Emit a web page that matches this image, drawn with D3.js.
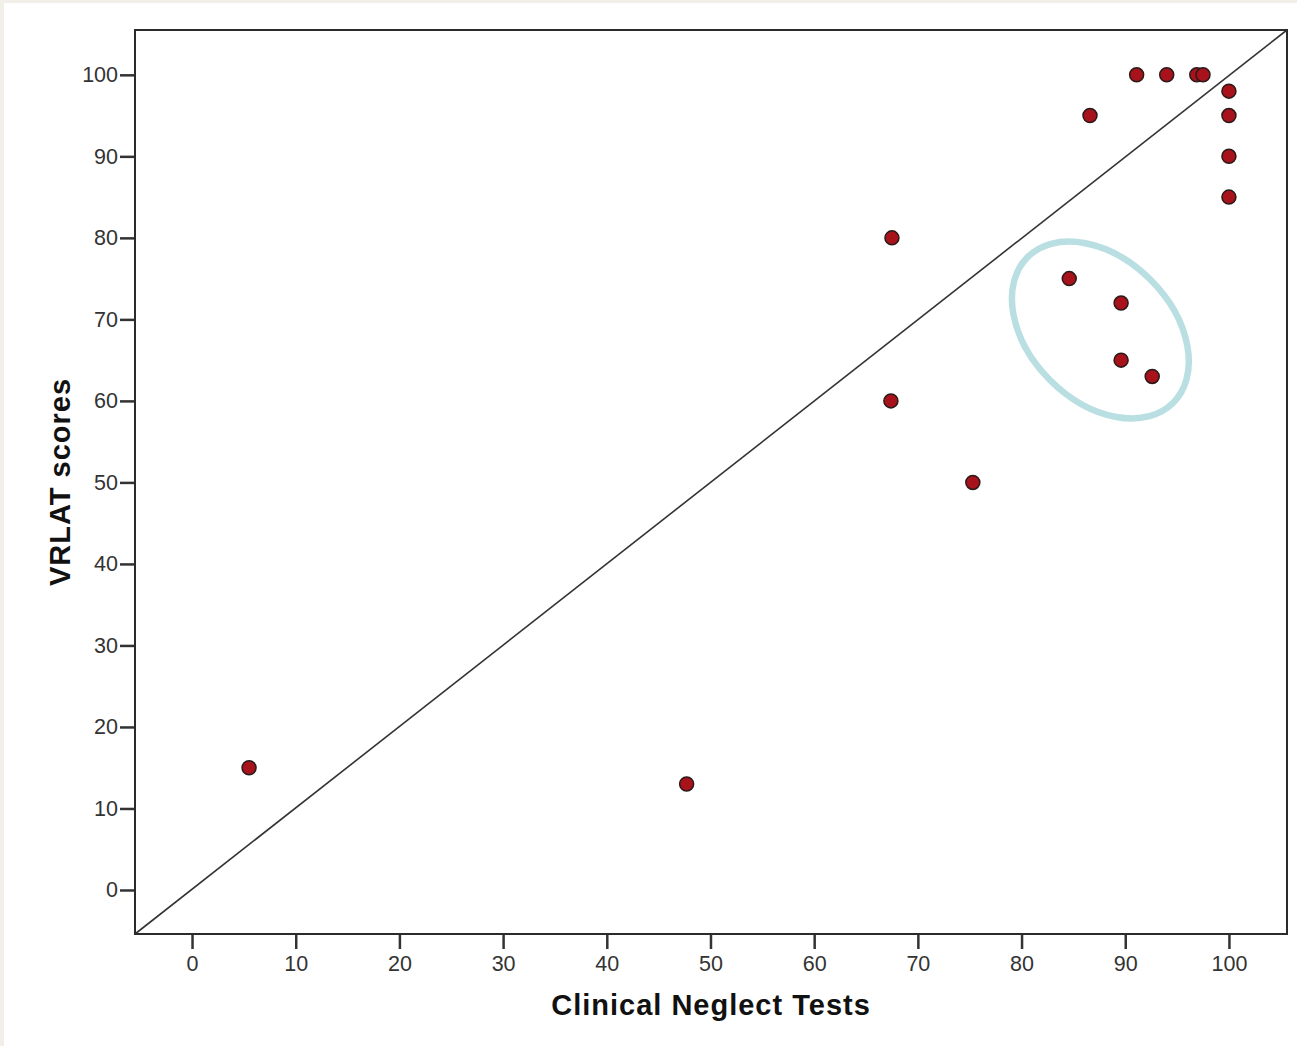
<!DOCTYPE html>
<html>
<head>
<meta charset="utf-8">
<script src="https://cdn.jsdelivr.net/npm/d3@7"></script>
<style>
  body { margin: 0; background: #f2efe8; }
  .tick text { font-family: "Liberation Sans", Arial, sans-serif; }
</style>
</head>
<body>
<div id="scatter"></div>
<script>
// Data
var clinicalScores = [5.5, 47.7, 67.5, 67.4, 75.3, 84.6, 89.6, 89.6, 92.6, 86.6, 91.1, 94.0, 96.9, 97.5, 100, 100, 100, 100];
var vrlatScores = [15, 13, 80, 60, 50, 75, 72, 65, 63, 95, 100, 100, 100, 100, 98, 95, 90, 85];
var tickValues = [0, 10, 20, 30, 40, 50, 60, 70, 80, 90, 100];

// Size of the page and the plot frame
var width = 1297;
var height = 1046;
var frameLeft = 135;
var frameTop = 30;
var frameRight = 1287;
var frameBottom = 934;

var svg = d3
  .select("#scatter")
  .append("svg")
  .attr("width", width)
  .attr("height", height)
  .style("display", "block");

// beige edge round a white panel
svg.append("rect")
  .attr("x", 4)
  .attr("y", 3)
  .attr("width", width - 4)
  .attr("height", height - 3)
  .attr("fill", "#ffffff");

// Scales: both axes run from about -5.5 to 105.5
var xScale = d3.scaleLinear().domain([-5.5, 105.6]).range([frameLeft, frameRight]);
var yScale = d3.scaleLinear().domain([-5.4, 105.5]).range([frameBottom, frameTop]);

var xAxis = d3.axisBottom(xScale).tickValues(tickValues).tickSize(15).tickPadding(7);
var yAxis = d3.axisLeft(yScale).tickValues(tickValues).tickSize(15).tickPadding(2);

var gx = svg.append("g")
  .attr("transform", "translate(0," + frameBottom + ")")
  .call(xAxis);
var gy = svg.append("g")
  .attr("transform", "translate(" + frameLeft + ",0)")
  .call(yAxis);

[gx, gy].forEach(function(g) {
  g.select(".domain").remove();
  g.selectAll(".tick line").attr("stroke", "#333").attr("stroke-width", 2.5);
  g.selectAll(".tick text")
    .attr("fill", "#333")
    .attr("font-size", 21.5);
});

// Diagonal reference line, corner to corner
svg.append("line")
  .attr("x1", xScale(-5.5))
  .attr("y1", yScale(-5.4))
  .attr("x2", xScale(105.6))
  .attr("y2", yScale(105.5))
  .attr("stroke", "#333")
  .attr("stroke-width", 1.6);

// Plot frame
svg.append("rect")
  .attr("x", frameLeft)
  .attr("y", frameTop)
  .attr("width", frameRight - frameLeft)
  .attr("height", frameBottom - frameTop)
  .attr("fill", "none")
  .attr("stroke", "#2b2b2b")
  .attr("stroke-width", 2);

// Highlight ellipse round the four points under the line
var ex = xScale(87.6);
var ey = yScale(68.7);
svg.append("ellipse")
  .attr("cx", 0)
  .attr("cy", 0)
  .attr("rx", 103)
  .attr("ry", 71)
  .attr("transform", "translate(" + ex + "," + ey + ") rotate(45)")
  .attr("fill", "none")
  .attr("stroke", "#b9dfe3")
  .attr("stroke-width", 6.5);

// Points
svg.append("g")
  .selectAll("circle")
  .data(clinicalScores)
  .enter()
  .append("circle")
  .attr("cx", function(d) { return xScale(d); })
  .attr("cy", function(d, i) { return yScale(vrlatScores[i]); })
  .attr("r", 7)
  .attr("fill", "#a8121a")
  .attr("stroke", "#2a1a1a")
  .attr("stroke-width", 1.5);

// Axis titles
svg.append("text")
  .attr("x", (frameLeft + frameRight) / 2)
  .attr("y", 1015)
  .attr("text-anchor", "middle")
  .attr("font-family", "Liberation Sans, Arial, sans-serif")
  .attr("font-weight", "bold")
  .attr("font-size", 29)
  .attr("letter-spacing", 1)
  .attr("fill", "#111")
  .text("Clinical Neglect Tests");

svg.append("text")
  .attr("transform", "translate(70," + (frameTop + frameBottom) / 2 + ") rotate(-90)")
  .attr("text-anchor", "middle")
  .attr("font-family", "Liberation Sans, Arial, sans-serif")
  .attr("font-weight", "bold")
  .attr("font-size", 29)
  .attr("letter-spacing", 1)
  .attr("fill", "#111")
  .text("VRLAT scores");
</script>
</body>
</html>
